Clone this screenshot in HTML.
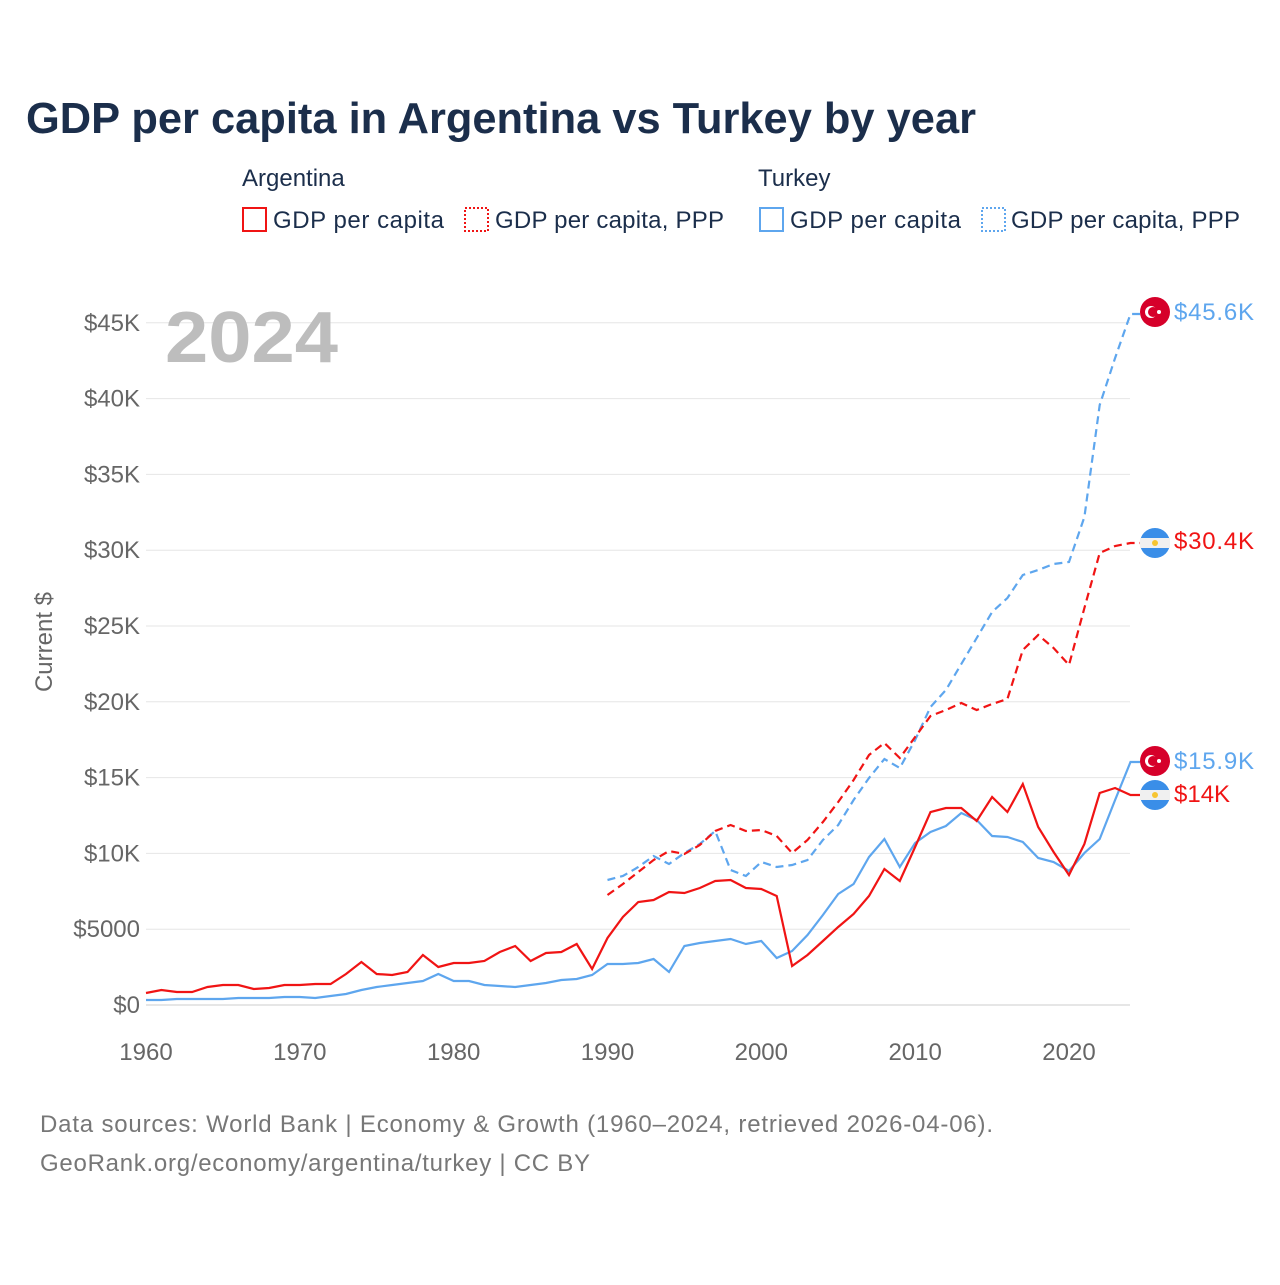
<!DOCTYPE html>
<html><head><meta charset="utf-8"><style>
body{margin:0;background:#fff;width:1280px;height:1280px;overflow:hidden;font-family:"Liberation Sans",sans-serif}
</style></head><body>
<svg id="s" width="1280" height="1280" xmlns="http://www.w3.org/2000/svg" font-family="Liberation Sans, sans-serif">
<text x="26" y="133" font-size="44" font-weight="bold" fill="#1b2e4b" textLength="950" lengthAdjust="spacingAndGlyphs">GDP per capita in Argentina vs Turkey by year</text>
<text x="242" y="186" font-size="24" fill="#1b2e4b">Argentina</text>
<text x="758" y="186" font-size="24" fill="#1b2e4b">Turkey</text>
<g font-size="24" fill="#1b2e4b">
<rect x="243" y="208" width="23" height="23" fill="none" stroke="#f01414" stroke-width="2"/>
<text x="273" y="228" textLength="171">GDP per capita</text>
<rect x="465" y="208" width="23" height="23" fill="none" stroke="#f01414" stroke-width="2" stroke-dasharray="2,2"/>
<text x="495" y="228" textLength="229">GDP per capita, PPP</text>
<rect x="760" y="208" width="23" height="23" fill="none" stroke="#5ea6ee" stroke-width="2"/>
<text x="790" y="228" textLength="171">GDP per capita</text>
<rect x="982" y="208" width="23" height="23" fill="none" stroke="#5ea6ee" stroke-width="2" stroke-dasharray="2,2"/>
<text x="1011" y="228" textLength="229">GDP per capita, PPP</text>
</g>
<g id="grid" stroke="#e6e6e6" stroke-width="1"></g>
<g id="yl" font-size="24" fill="#666" text-anchor="end"></g>
<g id="xl" font-size="24" fill="#666" text-anchor="middle"></g>
<text x="52" y="642" font-size="24" fill="#666" text-anchor="middle" transform="rotate(-90 52 642)">Current $</text>
<text x="165" y="362" font-size="72" font-weight="bold" fill="#bdbdbd" textLength="173" lengthAdjust="spacingAndGlyphs">2024</text>
<g id="lines" fill="none" stroke-width="2.2"></g>
<g font-size="24">
<circle cx="1155" cy="312" r="15" fill="#d6002a"/><circle cx="1151" cy="312" r="6" fill="#fff"/><circle cx="1153" cy="312" r="5" fill="#d6002a"/><circle cx="1159" cy="312" r="2" fill="#fff"/>
<text x="1174" y="320" fill="#5ea6ee" textLength="80">$45.6K</text>
<circle cx="1155" cy="543" r="15" fill="#3a8ee8"/><rect x="1140" y="538" width="30" height="10" fill="#f0f0f0"/><circle cx="1155" cy="543" r="3" fill="#f7c531"/>
<text x="1174" y="549" fill="#f01414" textLength="80">$30.4K</text>
<circle cx="1155" cy="761" r="15" fill="#d6002a"/><circle cx="1151" cy="761" r="6" fill="#fff"/><circle cx="1153" cy="761" r="5" fill="#d6002a"/><circle cx="1159" cy="761" r="2" fill="#fff"/>
<text x="1174" y="769" fill="#5ea6ee" textLength="80">$15.9K</text>
<circle cx="1155" cy="795" r="15" fill="#3a8ee8"/><rect x="1140" y="790" width="30" height="10" fill="#f0f0f0"/><circle cx="1155" cy="795" r="3" fill="#f7c531"/>
<text x="1174" y="802" fill="#f01414">$14K</text>
</g>
<text x="40" y="1132" font-size="24" fill="#777" textLength="953">Data sources: World Bank | Economy &amp; Growth (1960–2024, retrieved 2026-04-06).</text>
<text x="40" y="1171" font-size="24" fill="#777" textLength="550">GeoRank.org/economy/argentina/turkey | CC BY</text>
</svg>
<script>
var NS="http://www.w3.org/2000/svg",g=document.getElementById('grid'),yl=document.getElementById('yl'),xl=document.getElementById('xl'),L=document.getElementById('lines');
function el(p,t,a,txt){var e=document.createElementNS(NS,t);for(var k in a)e.setAttribute(k,a[k]);if(txt)e.textContent=txt;p.appendChild(e);return e;}
var labs=["$0","$5000","$10K","$15K","$20K","$25K","$30K","$35K","$40K","$45K"];
for(var i=0;i<10;i++){var y=1005-i*75.8;el(g,'line',{x1:146,x2:1130,y1:y,y2:y,stroke:i==0?'#ccc':'#e6e6e6'});el(yl,'text',{x:140,y:y+8},labs[i]);}
for(var yr=1960;yr<=2020;yr+=10){el(xl,'text',{x:146+(yr-1960)*15.383,y:1060},String(yr));}
function X(yr){return 146+(yr-1960)*15.383;}
function line(start,ys,col,dash){var p=ys.map(function(v,i){return X(start+i).toFixed(1)+','+v;}).join(' ');p+=' 1140,'+ys[ys.length-1];var a={points:p,stroke:col};if(dash)a['stroke-dasharray']='8,5';el(L,'polyline',a);}
var ar=[993,990,992,992,987,985,985,989,988,985,985,984,984,974,962,974,975,972,955,967,963,963,961,952,946,961,953,952,944,969,938,917,902,900,892,893,888,881,880,888,889,896,966,955,941,927,914,896,869,881,847,812,808,808,821,797,812,784,827,852,875,844,793,788,795];
var tr=[1000,1000,999,999,999,999,998,998,998,997,997,998,996,994,990,987,985,983,981,974,981,981,985,986,987,985,983,980,979,975,964,964,963,959,972,946,943,941,939,944,941,958,951,935,915,894,884,857,839,867,843,832,826,813,820,836,837,842,858,862,871,853,839,800,762];
var ap=[895,884,872,860,851,854,845,831,825,831,830,836,853,840,822,802,780,755,743,758,737,716,710,703,710,704,699,650,635,648,665,608,553,546,543];
var tp=[880,876,867,856,864,853,844,831,870,876,862,867,865,860,840,825,800,778,759,768,740,707,690,664,638,612,598,575,570,564,562,517,405,358,314];
line(1990,tp,'#5ea6ee',1);line(1990,ap,'#f01414',1);line(1960,tr,'#5ea6ee');line(1960,ar,'#f01414');
</script>
</body></html>
